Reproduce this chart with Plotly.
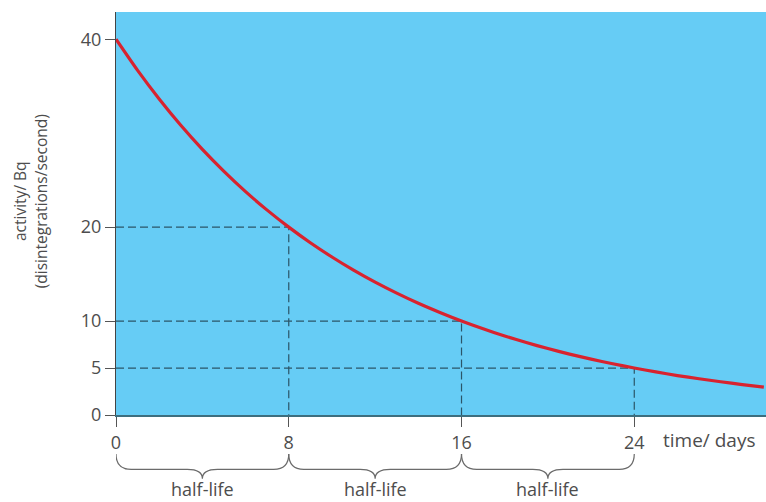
import plotly.graph_objects as go

# Data
time_days = [0, 1, 2, 3, 4, 5, 6, 7, 8, 9, 10, 11, 12, 13, 14, 15, 16,
             17, 18, 19, 20, 21, 22, 23, 24, 25, 26, 27, 28, 29, 30]
activity_bq = [40.0, 36.68, 33.64, 30.84, 28.28, 25.94, 23.78, 21.81, 20.0,
               18.34, 16.82, 15.42, 14.14, 12.97, 11.89, 10.91, 10.0, 9.17,
               8.41, 7.71, 7.07, 6.48, 5.95, 5.45, 5.0, 4.59, 4.2, 3.86,
               3.54, 3.24, 2.97]
halflife_times = [8, 16, 24]
halflife_activity = [20, 10, 5]
x_ticks = [0, 8, 16, 24]
y_ticks = [0, 5, 10, 20, 40]
brace_starts = [0, 8, 16]
brace_ends = [8, 16, 24]
brace_label = "half-life"

FONT = "Open Sans"
TEXT_COL = "#4d4d4d"
DASH_COL = "#2b5568"

fig = go.Figure()

# dashed guide lines
for t, a in zip(halflife_times, halflife_activity):
    fig.add_trace(go.Scatter(
        x=[0, t, t], y=[a, a, 0], mode="lines",
        line=dict(color=DASH_COL, width=1.2, dash="8px,4px"),
        hoverinfo="skip", showlegend=False, cliponaxis=False))

# decay curve
fig.add_trace(go.Scatter(
    x=time_days, y=activity_bq, mode="lines",
    line=dict(color="#d8232f", width=3.2, shape="spline", smoothing=0.6),
    showlegend=False))

# braces below the axis
y_top, y_mid, y_tip = -0.097, -0.135, -0.158
shapes = []
for x0, x1 in zip(brace_starts, brace_ends):
    xm = (x0 + x1) / 2
    d = 0.7
    path = (f"M {x0},{y_top} Q {x0},{y_mid} {x0 + d},{y_mid} "
            f"L {xm - d},{y_mid} Q {xm},{y_mid} {xm},{y_tip} "
            f"Q {xm},{y_mid} {xm + d},{y_mid} "
            f"L {x1 - d},{y_mid} Q {x1},{y_mid} {x1},{y_top}")
    shapes.append(dict(type="path", path=path, xref="x", yref="paper",
                       line=dict(color="#6b6b6b", width=1.2)))

annotations = []
for x0, x1 in zip(brace_starts, brace_ends):
    annotations.append(dict(x=(x0 + x1) / 2, y=-0.184, xref="x", yref="paper",
                            text=brace_label, showarrow=False,
                            font=dict(family=FONT, size=18, color=TEXT_COL),
                            xanchor="center", yanchor="middle"))
annotations.append(dict(x=27.5, y=-0.062, xref="x", yref="paper",
                        text="time/ days", showarrow=False,
                        font=dict(family=FONT, size=19, color=TEXT_COL),
                        xanchor="center", yanchor="middle"))
annotations.append(dict(x=-0.131, y=0.53, xref="paper", yref="paper",
                        text="activity/ Bq<br>(disintegrations/second)",
                        textangle=-90, showarrow=False,
                        font=dict(family=FONT, size=15.5, color=TEXT_COL),
                        xanchor="center", yanchor="middle"))

fig.update_layout(
    width=766, height=502,
    margin=dict(l=116, r=0, t=12, b=87),
    plot_bgcolor="#66ccf5", paper_bgcolor="white",
    shapes=shapes, annotations=annotations,
    showlegend=False,
    xaxis=dict(range=[0, 30.1], tickvals=x_ticks, ticks="outside", ticklen=10,
               tickcolor="#555555", tickwidth=1.2, showgrid=False, zeroline=False,
               showline=True, linecolor="#3d6e7e", linewidth=2,
               tickfont=dict(family=FONT, size=18, color=TEXT_COL)),
    yaxis=dict(range=[0, 42.9], tickvals=y_ticks, ticks="outside", ticklen=10,
               tickcolor="#555555", tickwidth=1.2, showgrid=False, zeroline=False,
               showline=True, linecolor="#444444", linewidth=1.2,
               tickfont=dict(family=FONT, size=18, color=TEXT_COL)),
)

fig.write_html("out.html", config={"displayModeBar": False},
               post_script="document.body.style.margin='0';document.body.style.overflow='hidden';")
